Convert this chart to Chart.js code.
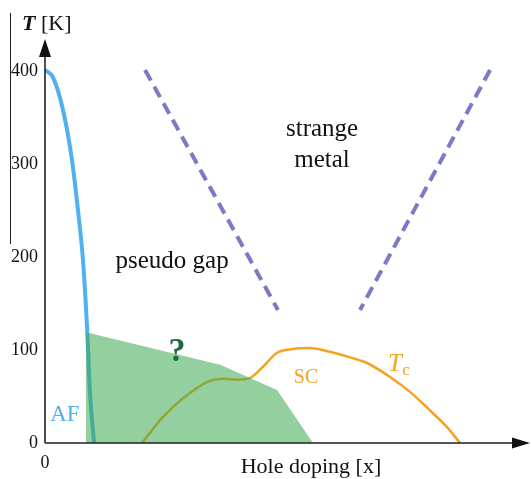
<!DOCTYPE html>
<html>
<head>
<meta charset="utf-8">
<script src="https://cdn.jsdelivr.net/npm/chart.js@4.4.1/dist/chart.umd.min.js"></script>
<style>
  html, body { margin: 0; padding: 0; background: #fff; }
  #wrap { position: relative; width: 531px; height: 479px; }
</style>
</head>
<body>
<div id="wrap"><canvas id="phase-canvas"></canvas></div>
<script>
// tick labels
var tempTicks = [0, 100, 200, 300, 400];
var dopingTicks = [0];

// antiferromagnetic boundary
var afDoping = [0, 0.0053, 0.012, 0.018, 0.022, 0.0253, 0.028, 0.030, 0.0327];
var afTemp = [401, 393, 358, 304, 250, 197, 125, 54, 0];

// unknown (?) green region
var unkDoping = [0.0273, 0.0273, 0.1167, 0.1367, 0.1547, 0.1787];
var unkTemp = [0, 119, 84, 70, 57, 0];

// superconducting dome Tc
var tcDoping = [0.0647, 0.0787, 0.092, 0.1087, 0.1187, 0.128, 0.1367, 0.1453, 0.1547, 0.1653, 0.1767, 0.19, 0.2033, 0.2147, 0.23, 0.2433, 0.2567, 0.268, 0.2767];
var tcTemp = [0, 28, 48, 66, 69, 68, 70, 82, 97, 101, 102, 98, 92, 86, 71, 55, 35, 17, 0];

// pseudo gap / strange metal crossover lines
var pgDoping = [0.0667, 0.1553];
var pgTemp = [401, 143];
var smDoping = [0.2967, 0.21];
var smTemp = [401, 143];

function toPoints(xs, ys) {
  return xs.map(function (x, i) { return { x: x, y: ys[i] }; });
}

var serif = '"Liberation Serif", "DejaVu Serif", serif';

var decorPlugin = {
  id: "decor",
  afterDraw: function (chart) {
    var ctx = chart.ctx;
    var xs = chart.scales.x, ys = chart.scales.y;
    var ox = xs.getPixelForValue(0), oy = ys.getPixelForValue(0);
    var px = function (v) { return xs.getPixelForValue(v); };
    var py = function (v) { return ys.getPixelForValue(v); };

    ctx.save();
    // axes with arrows
    ctx.strokeStyle = "#222";
    ctx.fillStyle = "#111";
    ctx.lineWidth = 1.6;
    ctx.beginPath();
    ctx.moveTo(ox, oy);
    ctx.lineTo(ox, 50);
    ctx.moveTo(ox, oy);
    ctx.lineTo(520, oy);
    ctx.stroke();
    ctx.beginPath();
    ctx.moveTo(ox, 39);
    ctx.lineTo(ox - 6, 57);
    ctx.lineTo(ox + 6, 57);
    ctx.closePath();
    ctx.fill();
    ctx.beginPath();
    ctx.moveTo(530, oy);
    ctx.lineTo(512, oy - 5.5);
    ctx.lineTo(512, oy + 5.5);
    ctx.closePath();
    ctx.fill();

    // thin line at far left
    ctx.lineWidth = 1;
    ctx.beginPath();
    ctx.moveTo(10.5, 13);
    ctx.lineTo(10.5, 244);
    ctx.stroke();

    ctx.textAlign = "center";
    ctx.textBaseline = "middle";

    // axis titles
    ctx.fillStyle = "#111";
    ctx.font = "22px " + serif;
    ctx.fillText("Hole doping [x]", 311, 467);
    ctx.textAlign = "left";
    ctx.font = "italic bold 22px " + serif;
    ctx.fillText("T", 22, 24);
    var tw = ctx.measureText("T ").width;
    ctx.font = "22px " + serif;
    ctx.fillText("[K]", 22 + tw, 24);

    // region labels
    ctx.textAlign = "center";
    ctx.font = "25px " + serif;
    ctx.fillText("strange", px(0.1847), py(337));
    ctx.fillText("metal", px(0.1847), py(304));
    ctx.fillText("pseudo gap", px(0.0847), py(195));

    ctx.fillStyle = "#1e6b3c";
    ctx.font = "bold 34px " + serif;
    ctx.fillText("?", px(0.088), py(98));

    ctx.fillStyle = "#52b0f2";
    ctx.font = "23px " + serif;
    ctx.fillText("AF", px(0.0133), py(30));

    ctx.fillStyle = "#f5a21e";
    ctx.font = "20px " + serif;
    ctx.fillText("SC", px(0.174), py(70));
    ctx.font = "italic 25px " + serif;
    ctx.fillText("T", px(0.2333), py(85));
    ctx.font = "17px " + serif;
    ctx.fillText("c", px(0.2333) + 11, py(78));
    ctx.restore();
  }
};

var phaseCanvas = document.getElementById("phase-canvas");

var phaseChart = new Chart(phaseCanvas, {
  type: "line",
  data: {
    datasets: [
      {
        label: "?",
        data: toPoints(unkDoping, unkTemp),
        fill: "origin",
        backgroundColor: "rgba(60,170,80,0.55)",
        borderWidth: 0,
        pointRadius: 0,
        tension: 0,
        order: 0,
      },
      {
        label: "AF",
        data: toPoints(afDoping, afTemp),
        borderColor: "#52b0f2",
        borderWidth: 4,
        pointRadius: 0,
        cubicInterpolationMode: "monotone",
        fill: false,
        order: 1,
      },
      {
        label: "Tc",
        data: toPoints(tcDoping, tcTemp),
        borderColor: "#f5a21e",
        borderWidth: 2.5,
        pointRadius: 0,
        cubicInterpolationMode: "monotone",
        fill: false,
        order: 1,
      },
      {
        label: "pseudo gap",
        data: toPoints(pgDoping, pgTemp),
        borderColor: "#7a7ac6",
        borderWidth: 4,
        borderDash: [12, 7],
        pointRadius: 0,
        fill: false,
        order: 2,
      },
      {
        label: "strange metal",
        data: toPoints(smDoping, smTemp),
        borderColor: "#7a7ac6",
        borderWidth: 4,
        borderDash: [12, 7],
        pointRadius: 0,
        fill: false,
        order: 2,
      },
    ],
  },
  options: {
    responsive: true,
    maintainAspectRatio: false,
    animation: false,
    layout: { padding: { top: 43, right: 6, left: 0, bottom: 0 } },
    plugins: {
      legend: { display: false },
      tooltip: { enabled: false },
    },
    scales: {
      x: {
        type: "linear",
        min: 0,
        max: 0.32,
        grid: { display: false, drawTicks: false },
        border: { display: false },
        afterBuildTicks: function (scale) {
          scale.ticks = dopingTicks.map(function (v) { return { value: v }; });
        },
        afterFit: function (scale) { scale.height = 36; },
        ticks: {
          color: "#111",
          padding: 9,
          maxRotation: 0,
          font: { family: serif, size: 18 },
        },
      },
      y: {
        min: 0,
        max: 430,
        grid: { display: false, drawTicks: false },
        border: { display: false },
        afterBuildTicks: function (scale) {
          scale.ticks = tempTicks.map(function (v) { return { value: v }; });
        },
        afterFit: function (scale) { scale.width = 45; },
        ticks: {
          color: "#111",
          padding: 7,
          font: { family: serif, size: 18 },
        },
      },
    },
  },
  plugins: [decorPlugin],
});
</script>
</body>
</html>
